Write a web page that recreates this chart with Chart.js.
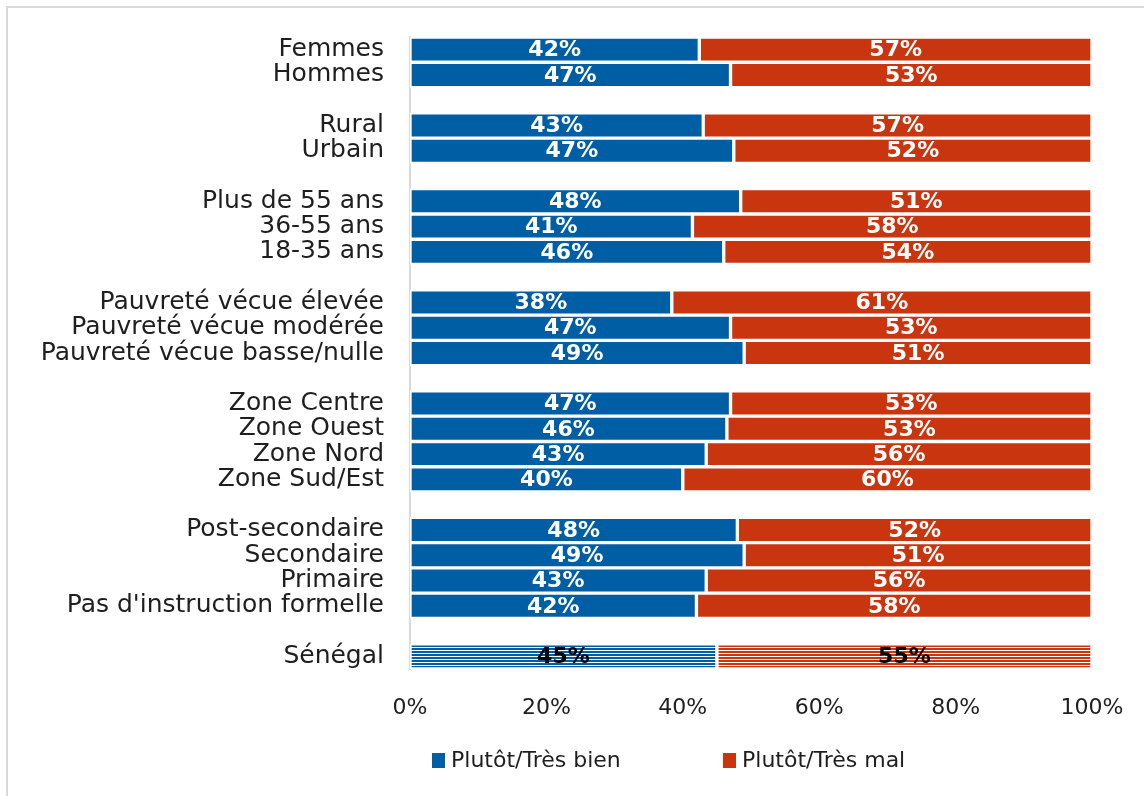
<!DOCTYPE html>
<html>
<head>
<meta charset="utf-8">
<title>Plutôt/Très bien - Plutôt/Très mal</title>
<script src="https://cdn.jsdelivr.net/npm/chart.js@4.4.0/dist/chart.umd.min.js"></script>
<style>
    html, body { margin: 0; padding: 0; background: #fff; overflow: hidden; }
    #box { position: absolute; left: 0; top: 0; width: 1144px; height: 796px; }
</style>
</head>
<body>
<div id="box"><canvas id="bar-chart"></canvas></div>
<script>
// categories ('' = blank row between groups)
var categories = ['Femmes', 'Hommes', '',
    'Rural', 'Urbain', '',
    'Plus de 55 ans', '36-55 ans', '18-35 ans', '',
    'Pauvreté vécue élevée', 'Pauvreté vécue modérée', 'Pauvreté vécue basse/nulle', '',
    'Zone Centre', 'Zone Ouest', 'Zone Nord', 'Zone Sud/Est', '',
    'Post-secondaire', 'Secondaire', 'Primaire', "Pas d'instruction formelle", '',
    'Sénégal'];
var bien = [42, 47, null, 43, 47, null, 48, 41, 46, null, 38, 47, 49, null, 47, 46, 43, 40, null, 48, 49, 43, 42, null, 45];
var mal  = [57, 53, null, 57, 52, null, 51, 58, 54, null, 61, 53, 51, null, 53, 53, 56, 60, null, 52, 51, 56, 58, null, 55];
var seriesNames = ['Plutôt/Très bien', 'Plutôt/Très mal'];
var xTicks = [0, 20, 40, 60, 80, 100];

var BLUE = '#005ea5';
var RED = '#c9350f';
var TEXT = '#1e1e1e';
var FONT = "'DejaVu Sans', sans-serif";

// bars are drawn as share of the two answers (100% stacked)
function share(a, b) {
    return a.map(function(v, i) {
        if (v === null) return null;
        return v / (v + b[i]) * 100;
    });
}

function stripes(color) {
    var c = document.createElement('canvas');
    c.width = 4; c.height = 3;
    var x = c.getContext('2d');
    x.fillStyle = '#ffffff';
    x.fillRect(0, 0, 4, 3);
    x.fillStyle = color;
    x.fillRect(0, 0, 4, 2);
    return x.createPattern(c, 'repeat');
}

function colorsFor(color) {
    return categories.map(function(c) {
        return c === 'Sénégal' ? stripes(color) : color;
    });
}

var valueLabels = {
    id: 'valueLabels',
    afterDatasetsDraw: function(chart) {
        var ctx = chart.ctx;
        var raw = [bien, mal];
        ctx.save();
        ctx.font = 'bold 22px ' + FONT;
        ctx.textAlign = 'center';
        ctx.textBaseline = 'middle';
        chart.data.datasets.forEach(function(ds, d) {
            chart.getDatasetMeta(d).data.forEach(function(el, i) {
                if (raw[d][i] === null) return;
                ctx.fillStyle = categories[i] === 'Sénégal' ? '#000' : '#fff';
                ctx.fillText(raw[d][i] + '%', (el.x + el.base) / 2, el.y + 1);
            });
        });
        ctx.restore();
    }
};

var frameAndLegend = {
    id: 'frameAndLegend',
    beforeDraw: function(chart) {
        var ctx = chart.ctx;
        ctx.save();
        ctx.strokeStyle = '#d9d9d9';
        ctx.lineWidth = 2;
        ctx.beginPath();
        ctx.moveTo(7, chart.height);
        ctx.lineTo(7, 7);
        ctx.lineTo(chart.width, 7);
        ctx.stroke();
        ctx.restore();
    },
    afterDraw: function(chart) {
        var ctx = chart.ctx;
        var a = chart.chartArea;
        var items = [[a.left + 22, BLUE], [a.left + 313, RED]];
        ctx.save();
        ctx.font = '22px ' + FONT;
        ctx.textBaseline = 'middle';
        ctx.textAlign = 'left';
        items.forEach(function(it, k) {
            ctx.fillStyle = it[1];
            ctx.fillRect(it[0], 753, 13, 15);
            ctx.fillStyle = TEXT;
            ctx.fillText(seriesNames[k], it[0] + 19, 761);
        });
        ctx.restore();
    }
};

new Chart(document.getElementById('bar-chart'), {
    type: 'bar',
    data: {
        labels: categories,
        datasets: [
            {
                label: seriesNames[0],
                data: share(bien, mal),
                backgroundColor: colorsFor(BLUE),
                borderColor: '#ffffff',
                borderWidth: 2,
                borderSkipped: false
            },
            {
                label: seriesNames[1],
                data: share(mal, bien),
                backgroundColor: colorsFor(RED),
                borderColor: '#ffffff',
                borderWidth: 2,
                borderSkipped: false
            }
        ]
    },
    options: {
        indexAxis: 'y',
        responsive: true,
        maintainAspectRatio: false,
        animation: false,
        datasets: { bar: { categoryPercentage: 1, barPercentage: 1 } },
        layout: { padding: { left: 10, right: 52, top: 37, bottom: 67 } },
        plugins: {
            legend: { display: false },
            tooltip: { enabled: false }
        },
        scales: {
            x: {
                stacked: true,
                min: 0,
                max: 100,
                afterBuildTicks: function(s) {
                    s.ticks = xTicks.map(function(v) { return {value: v}; });
                },
                afterFit: function(s) { s.height = 60; },
                grid: { display: false },
                border: { display: false },
                ticks: {
                    color: TEXT,
                    font: { family: FONT, size: 22 },
                    padding: 18,
                    callback: function(v) { return v + '%'; }
                }
            },
            y: {
                stacked: true,
                z: 1,
                afterFit: function(s) {
                    s.width = 400;
                    s.paddingTop = 0;
                    s.paddingBottom = 0;
                },
                grid: { display: false, drawTicks: false },
                border: { display: true, color: '#d9d9d9', width: 2 },
                ticks: {
                    autoSkip: false,
                    color: TEXT,
                    font: { family: FONT, size: 25 },
                    padding: 26
                }
            }
        }
    },
    plugins: [valueLabels, frameAndLegend]
});
</script>
</body>
</html>
